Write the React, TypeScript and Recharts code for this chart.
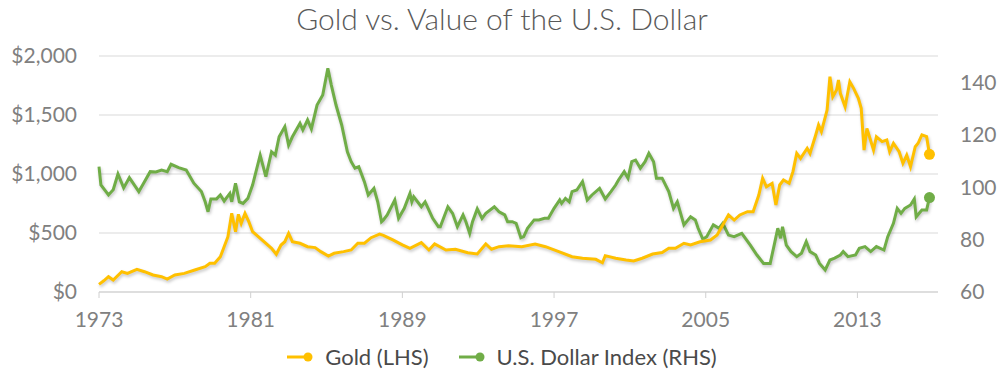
import React from 'react';
import { LineChart, Line, XAxis, YAxis, CartesianGrid } from 'recharts';

const xTicks = [1973, 1981, 1989, 1997, 2005, 2013];
const goldTicks = [0, 500, 1000, 1500, 2000];
const usdTicks = [60, 80, 100, 120, 140];

const goldYears = [
  1973.0, 1973.25, 1973.5, 1973.75, 1974.2, 1974.5, 1975.0, 1975.4, 1975.85, 1976.3, 1976.6, 1977.0, 1977.5,
  1978.05, 1978.6, 1978.85, 1979.1, 1979.4, 1979.6, 1979.8, 1980.0, 1980.2, 1980.35, 1980.5, 1980.7, 1980.9,
  1981.1, 1981.4, 1981.7, 1982.1, 1982.35, 1982.6, 1982.8, 1983.0, 1983.2, 1983.6, 1984.0, 1984.4, 1984.7,
  1985.1, 1985.4, 1985.9, 1986.3, 1986.65, 1987.0, 1987.35, 1987.8, 1988.0, 1988.5, 1989.0, 1989.4, 1990.0,
  1990.4, 1990.7, 1991.3, 1991.8, 1992.45, 1992.95, 1993.4, 1993.7, 1994.1, 1994.6, 1995.3, 1996.0, 1996.55,
  1997.25, 1997.95, 1998.5, 1999.2, 1999.55, 1999.7, 2000.25, 2000.8, 2001.2, 2001.65, 2002.2, 2002.7, 2003.05,
  2003.4, 2003.85, 2004.2, 2004.7, 2005.25, 2005.6, 2005.95, 2006.2, 2006.5, 2006.8, 2007.2, 2007.5, 2007.8,
  2008.0, 2008.2, 2008.5, 2008.7, 2008.9, 2009.1, 2009.4, 2009.6, 2009.8, 2010.0, 2010.35, 2010.5, 2010.8,
  2010.95, 2011.1, 2011.4, 2011.55, 2011.7, 2011.9, 2012.0, 2012.1, 2012.35, 2012.6, 2012.8, 2013.05, 2013.2,
  2013.35, 2013.5, 2013.85, 2014.0, 2014.3, 2014.55, 2014.7, 2014.9, 2015.2, 2015.4, 2015.6, 2015.8, 2016.05,
  2016.2, 2016.4, 2016.65, 2016.8,
];
const goldValues = [
  65, 95, 130, 102, 172, 158, 192, 172, 144, 130, 110, 144, 158,
  186, 214, 243, 243, 299, 384, 469, 667, 511, 658, 582, 667, 596,
  511, 469, 426, 370, 320, 398, 426, 497, 426, 413, 384, 376, 342,
  305, 328, 342, 356, 413, 413, 460, 490, 480, 441, 400, 370, 418,
  356, 407, 356, 362, 333, 322, 407, 362, 384, 392, 384, 407, 384,
  342, 299, 286, 277, 248, 308, 286, 271, 263, 286, 322, 335, 370,
  370, 413, 398, 426, 441, 483, 582, 653, 610, 653, 681, 681, 822,
  964, 892, 921, 737, 907, 949, 921, 1020, 1175, 1133, 1218, 1175, 1331,
  1415, 1359, 1542, 1825, 1655, 1712, 1797, 1684, 1570, 1782, 1726, 1641, 1557,
  1203, 1387, 1203, 1316, 1274, 1288, 1189, 1260, 1189, 1091, 1161, 1062, 1231,
  1260, 1331, 1316, 1167,
];

const usdYears = [
  1973.0, 1973.1, 1973.5, 1973.75, 1974.0, 1974.3, 1974.6, 1975.1, 1975.3, 1975.7, 1976.0, 1976.3, 1976.6,
  1976.8, 1977.2, 1977.6, 1978.0, 1978.4, 1978.6, 1978.75, 1978.9, 1979.2, 1979.4, 1979.6, 1979.9, 1980.0,
  1980.2, 1980.4, 1980.6, 1980.85, 1981.1, 1981.5, 1981.8, 1982.1, 1982.3, 1982.5, 1982.8, 1983.0, 1983.2,
  1983.6, 1983.75, 1984.0, 1984.2, 1984.5, 1984.8, 1985.07, 1985.25, 1985.5, 1985.8, 1986.1, 1986.3, 1986.5,
  1986.7, 1987.0, 1987.2, 1987.5, 1987.7, 1987.9, 1988.0, 1988.2, 1988.6, 1988.8, 1989.1, 1989.4, 1989.5,
  1989.6, 1990.0, 1990.2, 1990.6, 1990.9, 1991.0, 1991.4, 1991.65, 1991.9, 1992.2, 1992.35, 1992.55, 1992.7,
  1992.95, 1993.2, 1993.4, 1993.85, 1994.1, 1994.4, 1994.55, 1994.8, 1995.0, 1995.25, 1995.4, 1995.6, 1995.95,
  1996.2, 1996.5, 1996.7, 1997.0, 1997.3, 1997.4, 1997.6, 1997.8, 1997.95, 1998.2, 1998.5, 1998.75, 1999.0,
  1999.4, 1999.7, 2000.0, 2000.25, 2000.4, 2000.7, 2000.9, 2001.1, 2001.3, 2001.55, 2001.8, 2002.0, 2002.25,
  2002.4, 2002.7, 2003.05, 2003.3, 2003.5, 2003.85, 2004.2, 2004.45, 2004.6, 2004.85, 2005.05, 2005.4, 2005.7,
  2005.9, 2006.2, 2006.5, 2006.9, 2007.35, 2007.7, 2008.05, 2008.4, 2008.65, 2008.8, 2008.95, 2009.05, 2009.25,
  2009.5, 2009.8, 2010.05, 2010.3, 2010.5, 2010.8, 2011.0, 2011.3, 2011.55, 2011.8, 2012.1, 2012.25, 2012.5,
  2012.9, 2013.1, 2013.4, 2013.7, 2014.0, 2014.4, 2014.6, 2014.9, 2015.1, 2015.3, 2015.5, 2015.8, 2016.0,
  2016.1, 2016.4, 2016.65, 2016.8,
];
const usdValues = [
  107.8, 100.8, 97, 99, 105, 99.7, 103.6, 98.3, 100.8, 105.9, 105.8, 106.5, 105.9,
  108.7, 107.4, 106.5, 101.5, 98.3, 94.4, 90.6, 95.5, 95.5, 97, 94.7, 97.6, 94.4,
  101.5, 94.4, 93.8, 95.7, 100.8, 112.2, 104, 113.5, 112.2, 119.2, 123, 116, 119.2,
  124.3, 121.8, 125.6, 122.2, 131.3, 135.1, 145.3, 139, 131.3, 123.7, 113.5, 109.7, 107.2,
  107.8, 102, 97, 99.5, 94.4, 86.8, 87.5, 89.4, 95.1, 88.1, 91.9, 97.6, 94.4,
  96.3, 92.5, 94.4, 88.1, 84.9, 84.9, 92.5, 90, 84.9, 89.4, 86.8, 82.4, 86.8,
  91.7, 88.1, 90, 92.5, 90.6, 89.4, 86.8, 86.8, 86.2, 80.7, 81.1, 84.3, 87.5,
  87.5, 88.1, 88.1, 91.9, 95.1, 93.8, 95.7, 94.4, 98.3, 98.9, 102.1, 95.1, 97,
  99.5, 95.5, 98.3, 100.8, 102.7, 105.9, 103.4, 109.7, 110.3, 107.2, 109.7, 112.9, 109.7,
  103.4, 103.4, 98.3, 91.9, 94.4, 85.6, 88.7, 87.5, 84.3, 80.1, 81.1, 85.6, 84.3,
  86.2, 81.7, 81.1, 82.4, 77.9, 74.1, 70.9, 70.9, 79.2, 84.3, 80.5, 84.9, 77.9,
  75.4, 73.5, 74.8, 79.2, 75.4, 74.1, 70.9, 68.4, 72.2, 72.9, 74.1, 75.4, 73.5,
  74.1, 76.7, 77.3, 75.4, 77.3, 76, 81.1, 86.2, 91.9, 90, 91.9, 93.2, 95.5,
  88.7, 91.3, 91.3, 96,
];

const goldData = goldYears.map((x, i) => ({ x, gold: goldValues[i] }));
const usdData = usdYears.map((x, i) => ({ x, usd: usdValues[i] }));

const GOLD = '#FFC000';
const GREEN = '#70AD47';
const FONT = 'Lato, "Open Sans", sans-serif';
const TICK_COLOR = '#808080';

const lastDot = (color: string, lastIndex: number) => (props: any) => {
  const { cx, cy, index } = props;
  if (index !== lastIndex) return <g key={`d${index}`} />;
  return <circle key={`d${index}`} cx={cx} cy={cy} r={5.5} fill={color} stroke="none" />;
};

const fmtGold = (v: number) => '$' + v.toLocaleString('en-US');

const LegendItem = ({ color, label, gap }: { color: string; label: string; gap: number }) => (
  <div style={{ display: 'flex', alignItems: 'center', marginRight: gap }}>
    <svg width={26} height={12} style={{ marginRight: 12 }}>
      <line x1={0} y1={6} x2={21} y2={6} stroke={color} strokeWidth={3} />
      <circle cx={21} cy={6} r={4.5} fill={color} />
    </svg>
    <span>{label}</span>
  </div>
);

export default function App() {
  return (
    <div style={{ position: 'absolute', left: 0, top: 0, width: 1004, height: 379, background: '#fff', fontFamily: FONT }}>
      <style>{`.recharts-line-curve { filter: drop-shadow(1px 2px 1.5px rgba(0,0,0,0.22)); }`}</style>
      <div
        style={{
          position: 'absolute',
          left: 0,
          top: -1,
          width: 1004,
          textAlign: 'center',
          fontSize: 30,
          fontWeight: 300,
          color: '#595959',
          lineHeight: '38px',
        }}
      >
        Gold vs. Value of the U.S. Dollar
      </div>
      <LineChart width={1004} height={379} margin={{ top: 56, right: 0, bottom: 57, left: 0 }}>
        <CartesianGrid yAxisId="left" vertical={false} stroke="#d9d9d9" strokeWidth={1.2} />
        <XAxis
          dataKey="x"
          type="number"
          domain={[1973, 2017.25]}
          ticks={xTicks}
          allowDuplicatedCategory={false}
          height={30}
          stroke="#d0d0d0"
          tickSize={6}
          tickMargin={14}
          tick={{ fill: TICK_COLOR, fontSize: 21, fontFamily: FONT }}
        />
        <YAxis
          yAxisId="left"
          orientation="left"
          domain={[0, 2000]}
          ticks={goldTicks}
          width={99}
          axisLine={false}
          tickLine={false}
          tickSize={6}
          tickMargin={16}
          tickFormatter={fmtGold}
          tick={{ fill: TICK_COLOR, fontSize: 21, fontFamily: FONT }}
        />
        <YAxis
          yAxisId="right"
          orientation="right"
          domain={[60, 150]}
          ticks={usdTicks}
          width={66}
          axisLine={false}
          tickLine={false}
          tickSize={6}
          tickMargin={16}
          tick={{ fill: TICK_COLOR, fontSize: 21, fontFamily: FONT, textAnchor: 'start' }}
        />
        <Line
          yAxisId="right"
          data={usdData}
          dataKey="usd"
          stroke={GREEN}
          strokeWidth={3}
          type="linear"
          dot={lastDot(GREEN, usdData.length - 1)}
          activeDot={false}
          isAnimationActive={false}
        />
        <Line
          yAxisId="left"
          data={goldData}
          dataKey="gold"
          stroke={GOLD}
          strokeWidth={3}
          type="linear"
          dot={lastDot(GOLD, goldData.length - 1)}
          activeDot={false}
          isAnimationActive={false}
        />
      </LineChart>
      <div
        style={{
          position: 'absolute',
          left: 0,
          top: 342,
          width: 1004,
          display: 'flex',
          justifyContent: 'center',
          fontSize: 22,
          color: '#4a4a4a',
          lineHeight: '30px',
          boxSizing: 'border-box',
        }}
      >
        <LegendItem color={GOLD} label="Gold (LHS)" gap={30} />
        <LegendItem color={GREEN} label="U.S. Dollar Index (RHS)" gap={0} />
      </div>
    </div>
  );
}
